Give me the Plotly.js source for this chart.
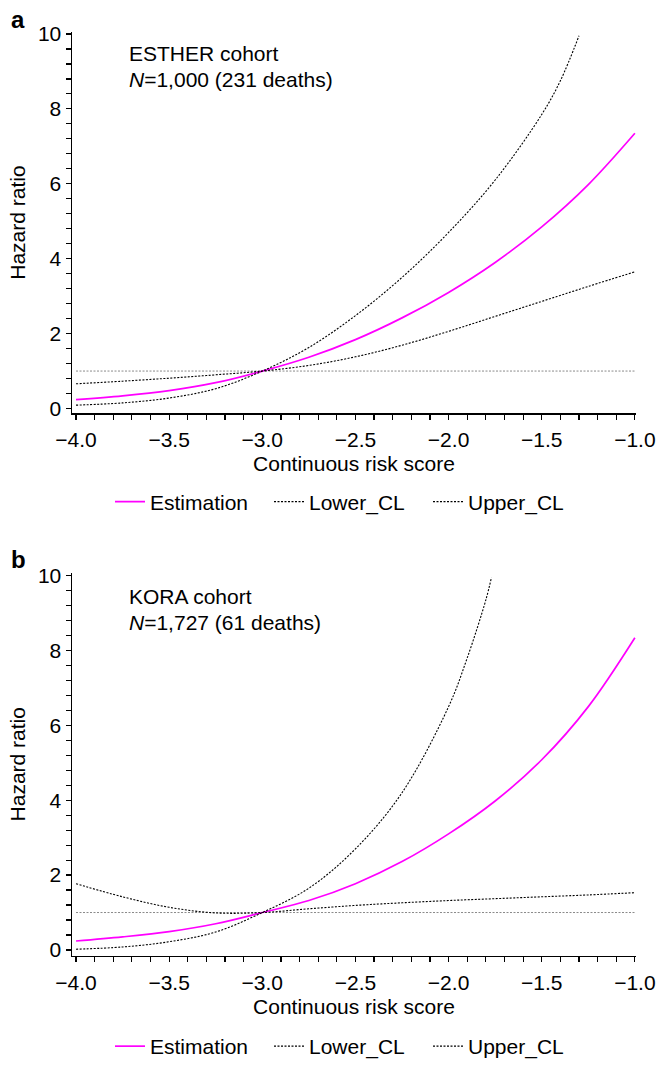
<!DOCTYPE html>
<html><head><meta charset="utf-8">
<script src="https://cdn.plot.ly/plotly-3.0.1.min.js"></script>
<style>html,body{margin:0;padding:0;background:#fff}</style>
</head><body><div id="chart" style="width:657px;height:1067px"></div>
<script>
// ---- data ----
const xGrid = [-4.0,-3.75,-3.5,-3.25,-3.0,-2.75,-2.5,-2.25,-2.0,-1.75,-1.5,-1.25,-1.0];

// Panel a: ESTHER cohort
const estherEstimation = [0.24,0.34,0.48,0.69,1.0,1.37,1.84,2.42,3.10,3.90,4.85,5.98,7.35];
const estherLowerCL    = [0.66,0.73,0.81,0.90,1.0,1.15,1.38,1.69,2.06,2.46,2.86,3.26,3.65];
const estherUpperX     = [-4.0,-3.75,-3.5,-3.25,-3.0,-2.75,-2.5,-2.25,-2.0,-1.75,-1.5,-1.4,-1.3];
const estherUpperCL    = [0.09,0.15,0.28,0.53,1.0,1.63,2.48,3.50,4.70,6.10,7.85,8.75,9.95];

// Panel b: KORA cohort
const koraEstimation = [0.24,0.35,0.49,0.70,1.0,1.32,1.77,2.36,3.10,3.98,5.08,6.50,8.34];
const koraLowerCL    = [1.77,1.42,1.14,0.99,1.0,1.10,1.19,1.26,1.32,1.37,1.42,1.47,1.53];
const koraUpperX     = [-4.0,-3.75,-3.5,-3.25,-3.0,-2.75,-2.5,-2.25,-2.0,-1.9,-1.8,-1.77];
const koraUpperCL    = [0.02,0.08,0.22,0.48,1.0,1.65,2.70,4.20,6.50,7.80,9.35,9.95];

// reference line HR = 1
const refX = [-4.0,-1.0];
const refY = [1,1];

const xTickVals = [-4.0,-3.5,-3.0,-2.5,-2.0,-1.5,-1.0];
const yTickVals = [0,2,4,6,8,10];

const panelLabels = ['a','b'];
const cohortNames = ['ESTHER cohort','KORA cohort'];
const cohortN = ['<i>N</i>=1,000 (231 deaths)','<i>N</i>=1,727 (61 deaths)'];
const seriesNames = ['Estimation','Lower_CL','Upper_CL'];
const xTitle = 'Continuous risk score';
const yTitle = 'Hazard ratio';

// ---- styling / layout ----
const FONT = 'Liberation Sans, Arial, Helvetica, sans-serif';
const FS = 21;
const H = 1067, L = 72, R = 21, PW = 657 - L - R;
const px2y = p => 1 - p / H;
const px2x = p => (p - L) / PW;

const estLine = {color:'#FF00FF', width:1.7};
const clLine = {color:'#000', width:1.1, dash:'2px,1.5px'};
const refLine = {color:'#8a8a8a', width:1, dash:'2px,1.5px'};

function traces(xa, ya, leg, est, lowX, low, upX, up) {
  return [
    {x:refX, y:refY, xaxis:xa, yaxis:ya, mode:'lines', line:refLine, showlegend:false, hoverinfo:'skip'},
    {x:xGrid, y:est, xaxis:xa, yaxis:ya, mode:'lines', name:seriesNames[0], legend:leg, line:Object.assign({shape:'spline', smoothing:1}, estLine)},
    {x:lowX, y:low, xaxis:xa, yaxis:ya, mode:'lines', name:seriesNames[1], legend:leg, line:Object.assign({shape:'spline', smoothing:1}, clLine)},
    {x:upX, y:up, xaxis:xa, yaxis:ya, mode:'lines', name:seriesNames[2], legend:leg, line:Object.assign({shape:'spline', smoothing:1}, clLine)}
  ];
}

const data = [].concat(
  traces('x','y','legend', estherEstimation, xGrid, estherLowerCL, estherUpperX, estherUpperCL),
  traces('x2','y2','legend2', koraEstimation, xGrid, koraLowerCL, koraUpperX, koraUpperCL)
);

const tf = {family:FONT, size:FS, color:'#000'};
function xAxis(anchor) {
  return {
    anchor:anchor, domain:[0,1], range:[-4.0215,-0.994], showline:true, linecolor:'#000', linewidth:1.5,
    ticks:'outside', ticklen:5, tickwidth:1.2, tickcolor:'#000', tickvals:xTickVals, tickformat:'.1f',
    minor:{ticks:'outside', dtick:0.1, tick0:-4, ticklen:5, tickwidth:1.2, tickcolor:'#000', showgrid:false},
    showgrid:false, zeroline:false, tickfont:tf, ticklabelstandoff:2,
    title:{text:xTitle, font:tf, standoff:6}
  };
}
function yAxis(anchor, dom, rng) {
  return {
    anchor:anchor, domain:dom, range:rng, showline:true, linecolor:'#000', linewidth:1.5,
    ticks:'outside', ticklen:5, tickwidth:1.2, tickcolor:'#000', tickvals:yTickVals,
    minor:{ticks:'outside', dtick:0.4, tick0:0, ticklen:5, tickwidth:1.2, tickcolor:'#000', showgrid:false},
    showgrid:false, zeroline:false, tickfont:tf,
    title:{text:yTitle, font:tf, standoff:6}
  };
}

function legendAt(pxY) {
  return {orientation:'h', x:px2x(110), xanchor:'left', y:px2y(pxY), yanchor:'middle',
    font:tf, bgcolor:'rgba(0,0,0,0)', borderwidth:0, traceorder:'normal', entrywidth:114, itemwidth:30};
}

const annotations = [];
const panelTop = [20, 565];
const nameY = [54, 602.5];
const nY = [80.5, 628.5];
for (let i = 0; i < 2; i++) {
  annotations.push({xref:'paper', yref:'paper', x:px2x(9), y:px2y(panelTop[i]), xanchor:'left', yanchor:'middle',
    text:'<b>' + panelLabels[i] + '</b>', showarrow:false, font:{family:FONT, size:24, color:'#000'}});
  annotations.push({xref:'paper', yref:'paper', x:px2x(127), y:px2y(nameY[i]), xanchor:'left', yanchor:'middle',
    text:cohortNames[i], showarrow:false, font:tf});
  annotations.push({xref:'paper', yref:'paper', x:px2x(127), y:px2y(nY[i]), xanchor:'left', yanchor:'middle',
    text:cohortN[i], showarrow:false, font:tf});
}

const layout = {
  width:657, height:H, margin:{l:L, r:R, t:0, b:0}, paper_bgcolor:'#fff', plot_bgcolor:'#fff',
  font:tf, showlegend:true,
  xaxis:xAxis('y'), yaxis:yAxis('x', [px2y(417.3), px2y(32)], [-0.13, 10.06]),
  xaxis2:xAxis('y2'), yaxis2:yAxis('x2', [px2y(965), px2y(578)], [-0.16, 10.08]),
  legend:legendAt(506.7), legend2:legendAt(1056.7),
  annotations:annotations
};

Plotly.newPlot('chart', data, layout, {displayModeBar:false, staticPlot:true});
</script></body></html>
